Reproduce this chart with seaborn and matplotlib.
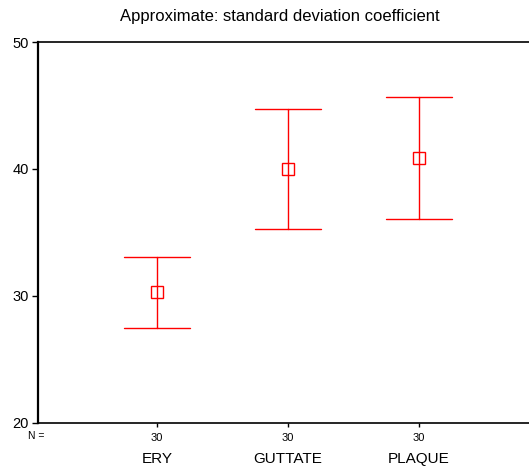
import matplotlib
matplotlib.use("Agg")
import matplotlib.pyplot as plt
import matplotlib.transforms as mtransforms
import seaborn as sns
import pandas as pd

groups = ["ERY", "GUTTATE", "PLAQUE"]
means = [30.3, 40.0, 40.85]
lower = [27.5, 35.3, 36.1]
upper = [33.05, 44.75, 45.65]
counts = [30, 30, 30]

# lower / mean / upper per group; median of the three = mean, pi 100 = full range
rows = []
for g, lo, m, hi in zip(groups, lower, means, upper):
    for v in (lo, m, hi):
        rows.append({"group": g, "value": v})
df = pd.DataFrame(rows)

sns.set_style("white")
plt.rcParams["font.family"] = ["Liberation Sans", "DejaVu Sans"]
plt.rcParams["text.color"] = "black"
plt.rcParams["xtick.color"] = "black"
plt.rcParams["ytick.color"] = "black"

fig = plt.figure(figsize=(5.29, 4.67), dpi=100)
ax = fig.add_axes([38 / 529, 1 - 423 / 467, 1 - 38 / 529, (423 - 42) / 467])

sns.pointplot(data=df, x="group", y="value", order=groups, estimator="median",
              errorbar=("pi", 100), capsize=0.5, color="red", linestyle="none",
              marker="s", markersize=8, markerfacecolor="white", markeredgewidth=1,
              err_kws={"linewidth": 1}, ax=ax)

ax.set_xlim(-119 / 131, (529 - 157) / 131)
ax.set_ylim(20, 50)
ax.set_yticks([20, 30, 40, 50])
ax.set_xticks([0, 1, 2])
ax.set_xticklabels([str(c) for c in counts], fontsize=8)
ax.set_xlabel("")
ax.set_ylabel("")
ax.tick_params(axis="y", direction="out", length=4.5, width=1, labelsize=10.5, pad=2,
               left=True, colors="black")
ax.tick_params(axis="x", direction="out", length=3, width=1, pad=4, bottom=True, colors="black")
for side in ["left", "bottom", "top"]:
    ax.spines[side].set_color("black")
ax.spines["left"].set_linewidth(1.6)
ax.spines["bottom"].set_linewidth(1.2)
ax.spines["top"].set_linewidth(1.2)
ax.spines["right"].set_visible(False)

trans = mtransforms.blended_transform_factory(ax.transData, fig.transFigure)
for i, g in enumerate(groups):
    ax.text(i, 1 - 459 / 467, g, transform=trans, ha="center", va="center",
            fontsize=11, color="black")
fig.text(36 / 529, 1 - 436 / 467, "N =", ha="center", va="center", fontsize=7.5, color="black")

fig.text(280 / 529, 1 - 17 / 467, "Approximate: standard deviation coefficient",
         ha="center", va="center", fontsize=12, color="black")

fig.savefig("out.png", dpi=100)
